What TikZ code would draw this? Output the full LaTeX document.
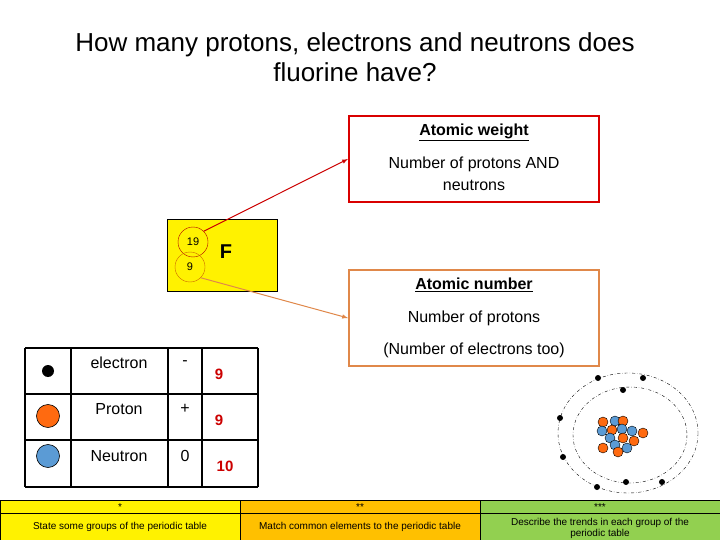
\documentclass[tikz,border=0pt]{standalone}
\usepackage{fontspec}
\setmainfont{Liberation Sans}
\definecolor{amber}{HTML}{FFC000}
\definecolor{lgreen}{HTML}{92D050}
\definecolor{tan}{HTML}{E0884A}
\definecolor{nblue}{HTML}{5B9BD5}
\definecolor{porange}{HTML}{FF6A10}
\begin{document}
\begin{tikzpicture}[x=1pt,y=-1pt,
  txt/.style={inner sep=0pt,anchor=center},
  prot/.style={circle,draw=black,fill=porange,minimum size=10pt,inner sep=0pt,thin},
  neut/.style={circle,draw=black,fill=nblue,minimum size=10pt,inner sep=0pt,thin},
  elec/.style={circle,fill=black,minimum size=6pt,inner sep=0pt},
  cell/.style={draw=black,line width=1.5pt},
  bar/.style={draw=black,line width=0.8pt}]
\useasboundingbox (0,0) rectangle (720,540);
\fill[white] (0,0) rectangle (720,540);
% title
\node[txt,font=\fontsize{26}{30}\selectfont,align=center] (title) at (355,57) {How many protons, electrons and neutrons does\\fluorine have?};
% element box
\node[draw=black,fill=yellow,minimum width=110pt,minimum height=72pt,inner sep=0pt] (el) at (222,255) {};
\node[circle,draw=red!70!black,minimum size=30pt,inner sep=0pt,font=\fontsize{11}{11}\selectfont] (mass) at (193,242) {19};
\node[circle,draw=orange!80!black,minimum size=30pt,inner sep=0pt,font=\fontsize{11}{11}\selectfont] (anum) at (190,267) {9};
\node[txt,font=\fontsize{20}{20}\selectfont\bfseries] (F) at (226,252) {F};
% info boxes
\node[draw=red!85!black,line width=2pt,minimum width=250pt,minimum height=86pt,inner sep=0pt] (wbox) at (474,159) {};
\node[txt,font=\fontsize{16}{18}\selectfont\bfseries] (wt) at (474,132) {\underline{Atomic weight}};
\node[txt,font=\fontsize{16}{22}\selectfont,align=center] (wd) at (474,174) {Number of protons AND\\neutrons};
\node[draw=tan,line width=2pt,minimum width=250pt,minimum height=96pt,inner sep=0pt] (nbox) at (474,318) {};
\node[txt,font=\fontsize{16}{18}\selectfont\bfseries] (nt) at (474,285) {\underline{Atomic number}};
\node[txt,font=\fontsize{16}{18}\selectfont] (nd1) at (474,318) {Number of protons};
\node[txt,font=\fontsize{16}{18}\selectfont] (nd2) at (474,350) {(Number of electrons too)};
\draw[red!80!black,line width=1pt,-latex] (mass.north east) -- (wbox.west);
\draw[tan,line width=1pt,-latex] (anum.south east) -- (nbox.west);
% table
\foreach \y in {348,394,440,487} \draw[cell] (25,\y) -- (258,\y);
\foreach \x in {25,71,168,202,258} \draw[cell] (\x,348) -- (\x,487);
\node[elec,minimum size=12pt] (te) at (48,371) {};
\node[prot,minimum size=23pt,line width=0.6pt] (tp) at (48,416) {};
\node[neut,minimum size=23pt,line width=0.6pt] (tn) at (48,456) {};
\node[txt,font=\fontsize{16}{18}\selectfont] (l1) at (119,363) {electron};
\node[txt,font=\fontsize{16}{18}\selectfont] (l2) at (119,409) {Proton};
\node[txt,font=\fontsize{16}{18}\selectfont] (l3) at (119,456) {Neutron};
\node[txt,font=\fontsize{16}{18}\selectfont] (c1) at (185,363) {-};
\node[txt,font=\fontsize{16}{18}\selectfont] (c2) at (185,409) {+};
\node[txt,font=\fontsize{16}{18}\selectfont] (c3) at (185,456) {0};
\node[txt,font=\fontsize{15}{18}\selectfont\bfseries,text=red!80!black] (v1) at (219,374) {9};
\node[txt,font=\fontsize{15}{18}\selectfont\bfseries,text=red!80!black] (v2) at (219,420) {9};
\node[txt,font=\fontsize{15}{18}\selectfont\bfseries,text=red!80!black] (v3) at (225,466) {10};
% atom
\draw[dash dot,thin] (628,433) ellipse [x radius=70,y radius=60];
\draw[dash dot,thin] (630,435) ellipse [x radius=57,y radius=48];
\foreach \p in {(598,378),(643,378),(623,390),(560,418),(563,457),(597,487),(626,482),(662,482)}
  \node[elec] at \p {};
\node[prot] at (603,422) {};
\node[neut] at (615,421) {};
\node[prot] at (623,421) {};
\node[neut] at (602,431) {};
\node[prot] at (612,430) {};
\node[neut] at (622,429) {};
\node[neut] at (632,431) {};
\node[prot] at (643,433) {};
\node[neut] at (610,438) {};
\node[prot] at (623,438) {};
\node[prot] at (634,441) {};
\node[neut] at (615,445) {};
\node[neut] at (627,448) {};
\node[prot] at (603,448) {};
\node[prot] at (618,452) {};
% bottom bar
\filldraw[bar,fill=yellow] (0,500) rectangle (240,513);
\filldraw[bar,fill=yellow] (0,513) rectangle (240,541);
\filldraw[bar,fill=amber] (240,500) rectangle (480,513);
\filldraw[bar,fill=amber] (240,513) rectangle (480,541);
\filldraw[bar,fill=lgreen] (480,500) rectangle (720,513);
\filldraw[bar,fill=lgreen] (480,513) rectangle (720,541);
\node[txt,font=\fontsize{10}{10}\selectfont] (s1) at (120,507) {*};
\node[txt,font=\fontsize{10}{10}\selectfont] (s2) at (360,507) {**};
\node[txt,font=\fontsize{10}{10}\selectfont] (s3) at (600,507) {***};
\node[txt,font=\fontsize{10}{11}\selectfont] (b1) at (120,527) {State some groups of the periodic table};
\node[txt,font=\fontsize{10}{11}\selectfont] (b2) at (360,527) {Match common elements to the periodic table};
\node[txt,font=\fontsize{10}{11}\selectfont,align=center] (b3) at (600,528) {Describe the trends in each group of the\\periodic table};
\end{tikzpicture}
\end{document}
